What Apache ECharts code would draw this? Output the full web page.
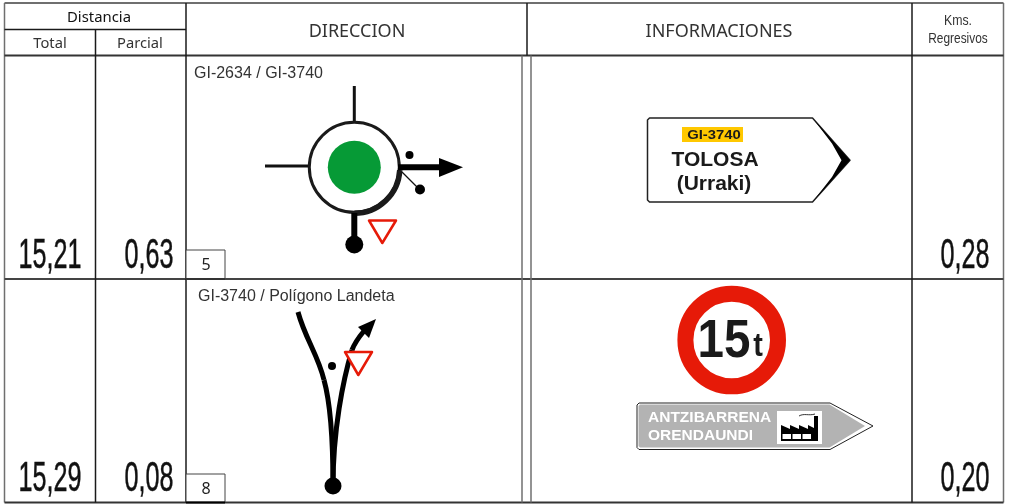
<!DOCTYPE html>
<html>
<head>
<meta charset="utf-8">
<style>html,body{margin:0;background:#fff}#chart{width:1009px;height:504px}</style>
<script src="https://cdn.jsdelivr.net/npm/echarts@6/dist/echarts.min.js"></script>
</head>
<body>
<div id="chart"></div>
<script>
// table content
const headers = ['DIRECCION', 'INFORMACIONES'];
const distanceTitle = 'Distancia';
const distanceCols = ['Total', 'Parcial'];
const regressiveTitle = ['Kms.', 'Regresivos'];
const totals = ['15,21', '15,29'];
const partials = ['0,63', '0,08'];
const regressive = ['0,28', '0,20'];
const stepNumbers = ['5', '8'];
const directions = ['GI-2634 / GI-3740', 'GI-3740 / Polígono Landeta'];
const signRoad = 'GI-3740';
const signTown = ['TOLOSA', '(Urraki)'];
const limitSign = ['15', 't'];
const greySign = ['ANTZIBARRENA', 'ORENDAUNDI'];

const DARK = '#1a1a1a', GREY = '#6f6f6f', RED = '#e61a08', GREEN = '#069a36';
const SANS = 'Liberation Sans', HEAD = 'Noto Sans';

const els = [];
const line = (x1, y1, x2, y2, color, w) => els.push({ type: 'line', shape: { x1, y1, x2, y2 }, style: { stroke: color || DARK, lineWidth: w || 1.5 } });
const poly = (points, fill, stroke, w) => els.push({ type: 'polygon', shape: { points }, style: { fill: fill || 'none', stroke: stroke || 'none', lineWidth: w || 1, lineJoin: 'round' } });
const dot = (cx, cy, r, fill) => els.push({ type: 'circle', shape: { cx, cy, r }, style: { fill: fill || '#000' } });
const curve = (x1, y1, cpx1, cpy1, cpx2, cpy2, x2, y2, w) => els.push({ type: 'bezierCurve', shape: { x1, y1, cpx1, cpy1, cpx2, cpy2, x2, y2 }, style: { fill: 'none', stroke: '#000', lineWidth: w } });
const text = (x, y, str, o) => {
  o = o || {};
  els.push({
    type: 'text', x, y, scaleX: o.sx || 1, originX: 0, originY: 0,
    style: { text: str, fill: o.color || DARK, stroke: o.stroke || 'none', lineWidth: o.stroke ? 0.5 : 0,
      font: (o.bold ? 'bold ' : '') + (o.size || 14) + 'px "' + (o.family || SANS) + '"',
      textAlign: o.align || 'center', textVerticalAlign: o.vAlign || 'middle' }
  });
};
const bigNumber = (x, y, str) => text(x, y, str, { size: 42, sx: 0.6, vAlign: 'bottom', color: '#111', stroke: '#111' });

// grid of the table
const TOP = 3, HEAD_Y = 55.5, ROW1 = 279, ROW2 = 502.5, LEFT = 4.5, RIGHT = 1003.5;
line(LEFT, TOP, RIGHT, TOP, GREY, 2);
line(LEFT, TOP, LEFT, ROW2, GREY, 1.5);
line(RIGHT, TOP, RIGHT, ROW2, GREY, 1.5);
line(LEFT, 29.5, 186, 29.5);
line(LEFT, HEAD_Y, RIGHT, HEAD_Y, '#333', 2);
line(LEFT, ROW1, RIGHT, ROW1, '#444', 2);
line(LEFT, ROW2, RIGHT, ROW2, '#333', 2);
line(95.5, 29.5, 95.5, ROW2);
line(186, TOP, 186, ROW2);
line(527, TOP, 527, HEAD_Y);
line(522, HEAD_Y, 522, ROW2, GREY);
line(531, HEAD_Y, 531, ROW2, GREY);
line(912, TOP, 912, ROW2);

// header texts
text(99, 17.5, distanceTitle, { family: HEAD, size: 15, sx: 0.99, color: '#111' });
text(50, 44, distanceCols[0], { family: HEAD, size: 15, sx: 0.98, color: '#333' });
text(140, 44, distanceCols[1], { family: HEAD, size: 15, sx: 0.98, color: '#333' });
text(357, 31.5, headers[0], { family: HEAD, size: 18, color: '#333' });
text(719, 31.5, headers[1], { family: HEAD, size: 18, color: '#333' });
text(958, 21, regressiveTitle[0], { size: 15, sx: 0.82, color: '#333' });
text(958, 39, regressiveTitle[1], { size: 14.5, sx: 0.82, color: '#333' });

// values in each row
const baselines = [277, 500];
totals.forEach((v, i) => bigNumber(50, baselines[i], v));
partials.forEach((v, i) => bigNumber(149, baselines[i], v));
regressive.forEach((v, i) => bigNumber(965, baselines[i], v));

// step number boxes
[250, 474].forEach((y, i) => {
  els.push({ type: 'rect', shape: { x: 186, y, width: 39, height: i ? 28 : 29 }, style: { fill: '#fff', stroke: '#444', lineWidth: 1 } });
  text(206, y + 15, stepNumbers[i], { family: HEAD, size: 16, color: '#222' });
});
line(186, ROW1, 225, ROW1, '#333', 2);
line(186, ROW2, 225, ROW2, '#000', 2);

text(194, 74, directions[0], { size: 16, align: 'left', color: '#333' });
text(198, 297, directions[1], { size: 16, align: 'left', color: '#333' });

// roundabout
const CX = 354.3, CY = 167.3;
line(CX, 86, CX, 122, '#111', 3);
line(265, 166, 309, 166, '#111', 3);
els.push({ type: 'circle', shape: { cx: CX, cy: CY, r: 45 }, style: { fill: '#fff', stroke: '#1a1a1a', lineWidth: 3 } });
els.push({ type: 'arc', shape: { cx: CX, cy: CY + 0.5, r: 45.5, startAngle: 0.05, endAngle: Math.PI / 2 }, style: { stroke: '#1a1a1a', fill: 'none', lineWidth: 5.5 } });
dot(CX, CY, 26.5, GREEN);
line(398, 167.3, 442, 167.3, '#000', 6);
poly([[439, 158], [463, 167.3], [439, 177]], '#000');
dot(409.5, 155, 4);
line(402, 172, 420, 190, '#111', 1.2);
dot(420, 189.5, 5);
line(CX, 213, CX, 245, '#000', 6);
dot(CX, 244.5, 9);
poly([[369, 220.5], [396, 220.5], [382.3, 243]], '#fff', RED, 2.5);

// fork, second row
curve(298, 312, 305, 338, 318, 355, 324, 380, 5);
curve(324, 380, 331, 405, 333, 440, 333, 486, 5);
curve(333, 486, 333, 430, 343, 380, 352, 350, 5);
curve(352, 350, 355, 342, 359, 337, 364, 331, 5);
poly([[358, 327], [376, 319], [369, 338]], '#000');
dot(332, 366, 4);
dot(333, 486, 8.5);
poly([[345, 352], [372, 352], [358.3, 375]], '#fff', RED, 2.5);

// TOLOSA sign
poly([[649.5, 118], [812.5, 118], [850, 160.3], [812.5, 202], [649.5, 202], [647.5, 200], [647.5, 120]], '#fff', '#222', 1.5);
poly([[812.5, 118], [850, 160.3], [812.5, 202], [832, 177], [841.5, 160.3], [832, 143.5]], '#000');
els.push({ type: 'rect', shape: { x: 682, y: 127, width: 61, height: 15 }, style: { fill: '#ffc800' } });
text(714, 135, signRoad, { size: 13, bold: true, sx: 1.14 });
text(715, 160, signTown[0], { size: 21, bold: true });
text(714, 184.5, signTown[1], { size: 21, bold: true });

// weight limit sign
els.push({ type: 'circle', shape: { cx: 731.7, cy: 340, r: 46.3 }, style: { fill: '#fff', stroke: RED, lineWidth: 16 } });
text(724, 342, limitSign[0], { size: 54, bold: true, sx: 0.88 });
text(758, 347, limitSign[1], { size: 34, bold: true, sx: 0.85 });

// grey direction sign
poly([[639, 403], [830, 403], [873, 426], [830, 449.5], [639, 449.5], [637, 447.5], [637, 405]], '#fff', '#222', 1);
poly([[640, 404.5], [829.5, 404.5], [865, 426], [829.5, 447.5], [640, 447.5], [638.5, 446], [638.5, 406]], '#b3b3b3');
text(648, 418, greySign[0], { size: 15.5, bold: true, align: 'left', color: '#fff' });
text(648, 436, greySign[1], { size: 15.5, bold: true, align: 'left', color: '#fff' });
els.push({ type: 'rect', shape: { x: 777, y: 411, width: 45, height: 33 }, style: { fill: '#fff' } });
poly([[781, 441], [781, 425], [790, 429], [790, 425], [799, 429], [799, 425], [808, 429], [808, 425], [814, 428], [814, 416], [818, 416], [818, 441]], '#000');
[[782.5, 434], [792.5, 434], [802.5, 434]].forEach(p => els.push({ type: 'rect', shape: { x: p[0], y: p[1], width: 8.5, height: 5 }, style: { fill: '#fff' } }));
curve(799, 416, 804, 413, 809, 416, 815, 414, 0.8);

const chart = echarts.init(document.getElementById('chart'));
chart.setOption({ backgroundColor: '#fff', animation: false, graphic: { elements: els } });
</script>
</body>
</html>
